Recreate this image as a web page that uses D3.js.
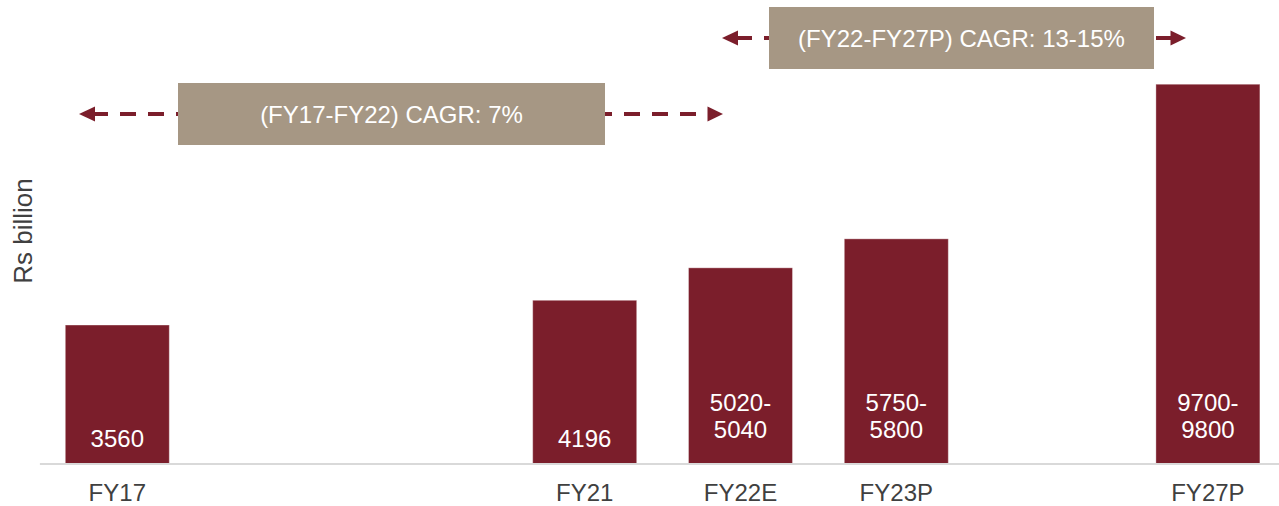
<!DOCTYPE html>
<html><head><meta charset="utf-8">
<script src="https://cdn.jsdelivr.net/npm/d3@7"></script>
<style>html,body{margin:0;padding:0;background:#fff;overflow:hidden}</style>
</head><body><svg id="chart" width="1279" height="506"></svg>
<script>
// ---- data ----
const categories = ["FY17", "", "", "FY21", "FY22E", "FY23P", "", "FY27P"];
const values = [3560, null, null, 4196, 5030, 5775, null, 9750];
const valueLabels = [["3560"], null, null, ["4196"], ["5020-", "5040"], ["5750-", "5800"], null, ["9700-", "9800"]];
const yAxisTitle = "Rs billion";
const cagrLabels = ["(FY17-FY22) CAGR: 7%", "(FY22-FY27P) CAGR: 13-15%"];

// ---- layout / style ----
const W = 1279, H = 506;
const font = "'Liberation Sans', Arial, Helvetica, sans-serif";
const barColor = "#7b1e2b";
const boxColor = "#a69784";
const textGray = "#404040";
const y0 = 463.5;

const svg = d3.select("#chart").attr("font-family", font);

const x = d3.scaleBand()
  .domain(d3.range(categories.length))
  .range([39.4, 1285.8])
  .paddingInner(0.3325)
  .paddingOuter(0.3325 / 2);

const y = d3.scaleLinear().domain([0, 10000]).range([y0, y0 - 389]);

const data = values.map((v, i) => ({i, v, lab: valueLabels[i]})).filter(d => d.v != null);

// bars
svg.append("g").selectAll("rect").data(data).join("rect")
  .attr("x", d => x(d.i))
  .attr("y", d => y(d.v))
  .attr("width", x.bandwidth())
  .attr("height", d => y(0) - y(d.v))
  .attr("fill", barColor)
  .attr("stroke", "rgba(255,255,255,0.35)")
  .attr("stroke-width", 1);

// value labels inside base
const lg = svg.append("g").attr("fill", "#fff").attr("font-size", 24).attr("text-anchor", "middle");
data.forEach(d => {
  const n = d.lab.length;
  const lastBase = n === 1 ? y(0) - 16.5 : y(0) - 25.5;
  d.lab.forEach((t, k) => {
    lg.append("text")
      .attr("x", x(d.i) + x.bandwidth() / 2)
      .attr("y", lastBase - (n - 1 - k) * 27)
      .text(t);
  });
});

// x axis
const ax = svg.append("g").attr("transform", `translate(0,${y0})`)
  .call(d3.axisBottom(x).tickSize(0).tickSizeOuter(0).tickPadding(20).tickFormat(i => categories[i]));
ax.select(".domain").attr("stroke", "#d9d9d9").attr("stroke-width", 2);
ax.selectAll("text").attr("font-size", 24).attr("fill", textGray).attr("font-family", font);

// y axis title
svg.append("text")
  .attr("transform", "translate(32,231) rotate(-90)")
  .attr("text-anchor", "middle")
  .attr("font-size", 26)
  .attr("fill", textGray)
  .text(yAxisTitle);

// CAGR annotations
const cagrLayout = [
  {bx: 178, by: 83, bw: 427, bh: 62, ly: 114, tipL: 79, tipR: 723, lineL: 92, lineR: 708},
  {bx: 769, by: 7, bw: 385, bh: 62, ly: 38, tipL: 722, tipR: 1186, lineL: 736, lineR: 1172}
];
cagrLayout.forEach((c, k) => {
  const g = svg.append("g");
  g.append("line")
    .attr("x1", c.lineL).attr("x2", c.lineR).attr("y1", c.ly).attr("y2", c.ly)
    .attr("stroke", barColor).attr("stroke-width", 4).attr("stroke-dasharray", "16,12");
  g.append("path")
    .attr("d", `M${c.tipL},${c.ly} L${c.tipL + 16},${c.ly - 7.5} L${c.tipL + 16},${c.ly + 7.5} Z`)
    .attr("fill", barColor);
  g.append("path")
    .attr("d", `M${c.tipR},${c.ly} L${c.tipR - 15.5},${c.ly - 7.5} L${c.tipR - 15.5},${c.ly + 7.5} Z`)
    .attr("fill", barColor);
  g.append("rect")
    .attr("x", c.bx).attr("y", c.by).attr("width", c.bw).attr("height", c.bh)
    .attr("fill", boxColor);
  g.append("text")
    .attr("x", c.bx + c.bw / 2).attr("y", c.by + c.bh / 2 + 8.5)
    .attr("text-anchor", "middle").attr("font-size", 24).attr("fill", "#fff")
    .text(cagrLabels[k]);
});
</script>
</body></html>
